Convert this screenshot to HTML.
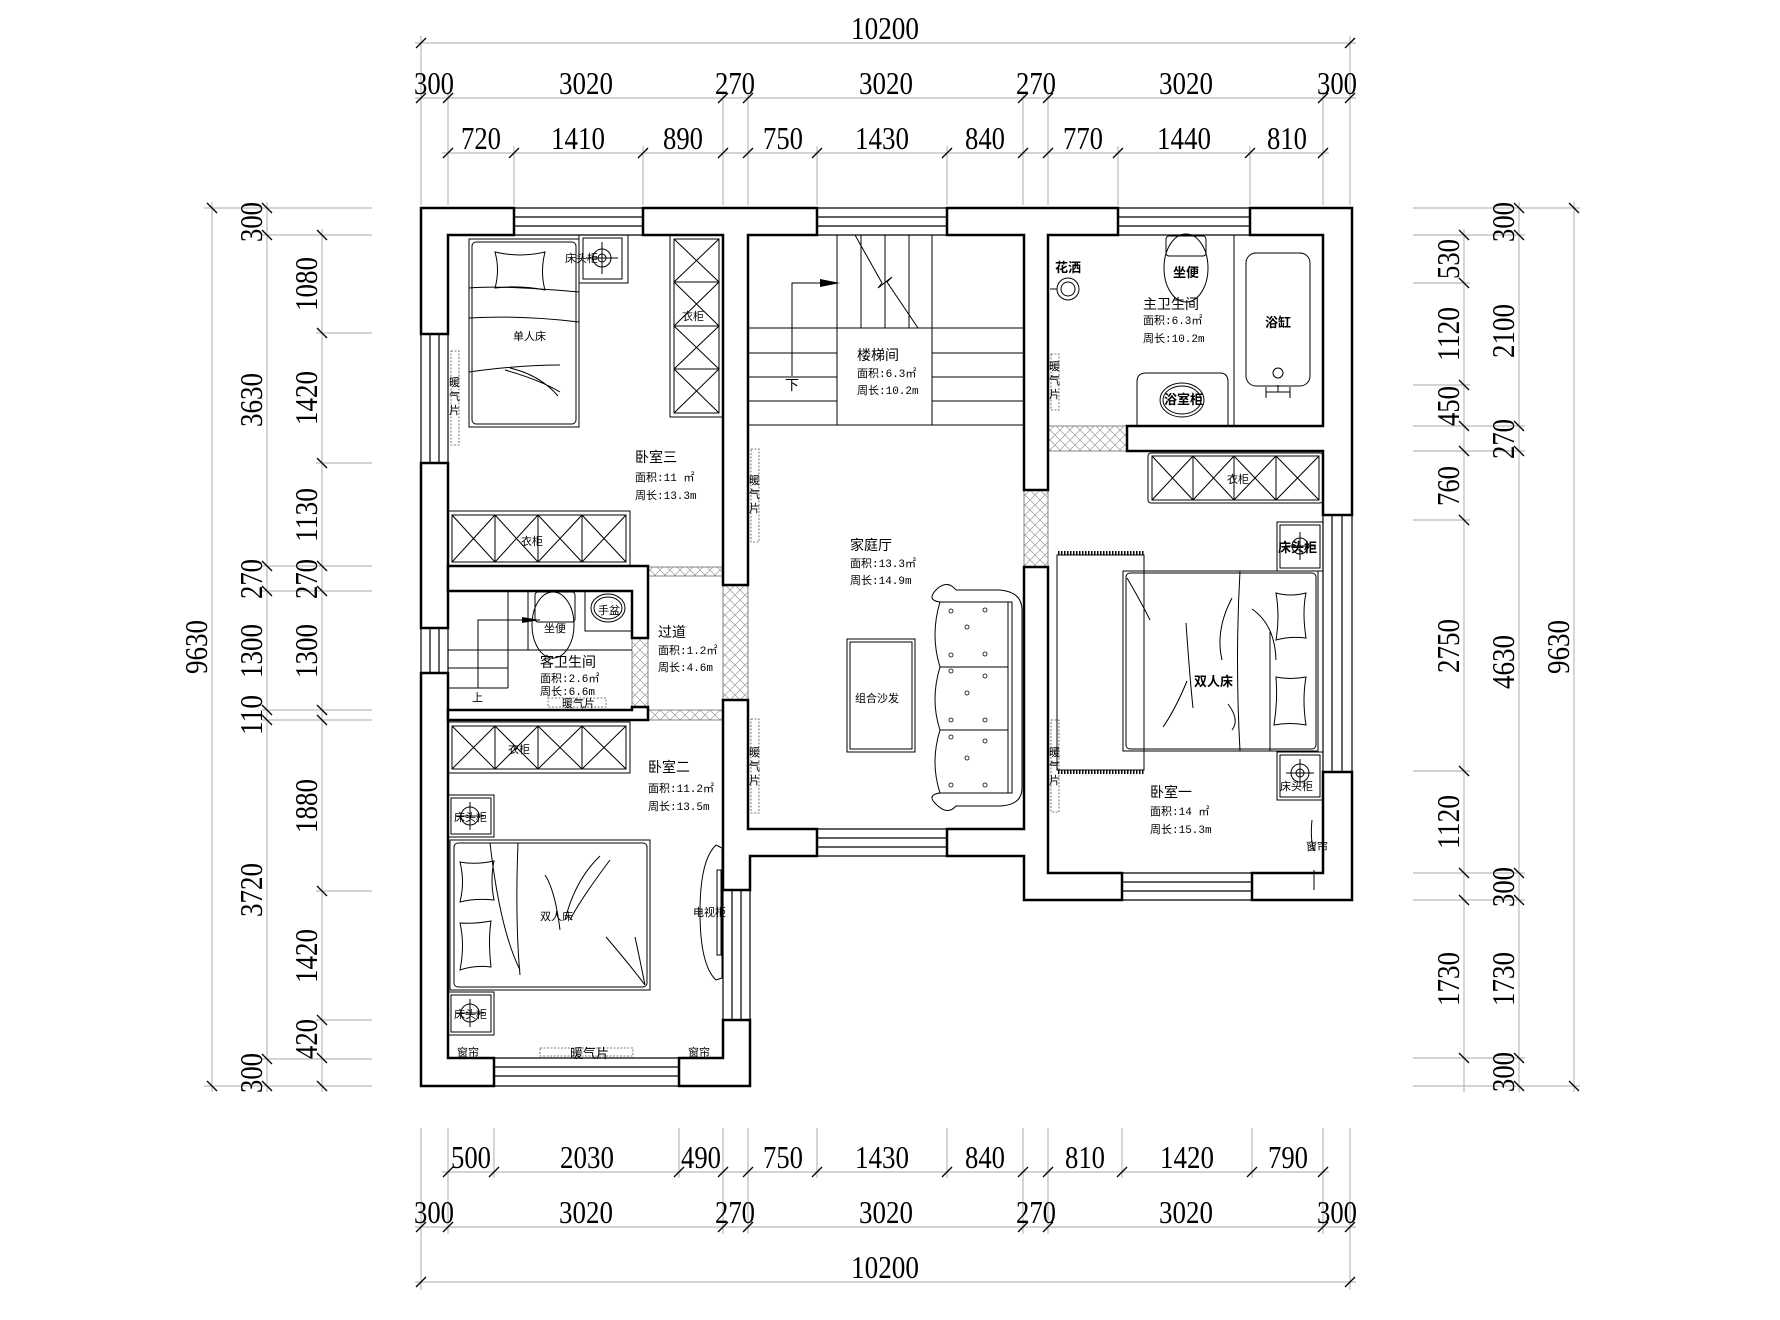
<!DOCTYPE html>
<html><head><meta charset="utf-8"><style>
html,body{margin:0;padding:0;background:#fff;}
svg{display:block;}
.d{font-family:"Liberation Serif","Noto Serif CJK SC",serif;font-size:32px;fill:#000;}
.t{font-family:"Liberation Sans","Noto Sans CJK SC",sans-serif;font-size:14px;fill:#000;}
.s{font-family:"Liberation Mono","Noto Sans CJK SC",monospace;font-size:11px;fill:#000;}
.b{font-family:"Liberation Sans","Noto Sans CJK SC",sans-serif;font-size:13px;font-weight:bold;fill:#000;}
</style></head><body>
<svg width="1780" height="1320" viewBox="0 0 1780 1320" xmlns="http://www.w3.org/2000/svg">
<defs>
<pattern id="h" width="10" height="10" patternUnits="userSpaceOnUse">
<path d="M0 10 L10 0 M0 0 L10 10" stroke="#999" stroke-width="0.7"/>
</pattern>
</defs>
<rect width="1780" height="1320" fill="#fff"/>

<g stroke="#bbb" stroke-width="1.2">
<line x1="421" y1="36" x2="421" y2="205"/><line x1="1350" y1="36" x2="1350" y2="205"/>
<line x1="448" y1="92" x2="448" y2="205"/><line x1="723" y1="92" x2="723" y2="205"/><line x1="748" y1="92" x2="748" y2="205"/><line x1="1023" y1="92" x2="1023" y2="205"/><line x1="1048" y1="92" x2="1048" y2="205"/><line x1="1323" y1="92" x2="1323" y2="205"/>
<line x1="514" y1="146" x2="514" y2="205"/><line x1="643" y1="146" x2="643" y2="205"/><line x1="817" y1="146" x2="817" y2="205"/><line x1="947" y1="146" x2="947" y2="205"/><line x1="1118" y1="146" x2="1118" y2="205"/><line x1="1250" y1="146" x2="1250" y2="205"/>
<line x1="421" y1="1128" x2="421" y2="1290"/><line x1="1350" y1="1128" x2="1350" y2="1290"/>
<line x1="448" y1="1128" x2="448" y2="1234"/><line x1="723" y1="1128" x2="723" y2="1234"/><line x1="748" y1="1128" x2="748" y2="1234"/><line x1="1023" y1="1128" x2="1023" y2="1234"/><line x1="1048" y1="1128" x2="1048" y2="1234"/><line x1="1323" y1="1128" x2="1323" y2="1234"/>
<line x1="494" y1="1128" x2="494" y2="1178"/><line x1="679" y1="1128" x2="679" y2="1178"/><line x1="817" y1="1128" x2="817" y2="1178"/><line x1="947" y1="1128" x2="947" y2="1178"/><line x1="1122" y1="1128" x2="1122" y2="1178"/><line x1="1252" y1="1128" x2="1252" y2="1178"/>
<line x1="415" y1="43" x2="1356" y2="43"/><line x1="415" y1="98" x2="1356" y2="98"/><line x1="442" y1="153" x2="1329" y2="153"/>
<line x1="442" y1="1172" x2="1329" y2="1172"/><line x1="415" y1="1227" x2="1356" y2="1227"/><line x1="415" y1="1282" x2="1356" y2="1282"/>
<line x1="204" y1="208" x2="372" y2="208"/><line x1="204" y1="1086" x2="372" y2="1086"/>
<line x1="262" y1="235" x2="372" y2="235"/><line x1="262" y1="566" x2="372" y2="566"/><line x1="262" y1="591" x2="372" y2="591"/><line x1="262" y1="710" x2="372" y2="710"/><line x1="262" y1="720" x2="372" y2="720"/><line x1="262" y1="1059" x2="372" y2="1059"/>
<line x1="316" y1="333" x2="372" y2="333"/><line x1="316" y1="463" x2="372" y2="463"/><line x1="316" y1="891" x2="372" y2="891"/><line x1="316" y1="1020" x2="372" y2="1020"/>
<line x1="212" y1="202" x2="212" y2="1092"/><line x1="267" y1="202" x2="267" y2="1092"/><line x1="322" y1="229" x2="322" y2="1092"/>
<line x1="1413" y1="208" x2="1580" y2="208"/><line x1="1413" y1="1086" x2="1580" y2="1086"/>
<line x1="1413" y1="235" x2="1525" y2="235"/><line x1="1413" y1="426" x2="1525" y2="426"/><line x1="1413" y1="451" x2="1525" y2="451"/><line x1="1413" y1="873" x2="1525" y2="873"/><line x1="1413" y1="900" x2="1525" y2="900"/><line x1="1413" y1="1058" x2="1525" y2="1058"/>
<line x1="1413" y1="283" x2="1470" y2="283"/><line x1="1413" y1="385" x2="1470" y2="385"/><line x1="1413" y1="520" x2="1470" y2="520"/><line x1="1413" y1="771" x2="1470" y2="771"/>
<line x1="1464" y1="229" x2="1464" y2="1092"/><line x1="1519" y1="202" x2="1519" y2="1092"/><line x1="1574" y1="202" x2="1574" y2="1092"/>
</g>
<g stroke="#000" stroke-width="1.3">
<path d="M416 48l10-10M1345 48l10-10
M416 103l10-10M443 103l10-10M718 103l10-10M743 103l10-10M1018 103l10-10M1043 103l10-10M1318 103l10-10M1345 103l10-10
M443 158l10-10M509 158l10-10M638 158l10-10M718 158l10-10M743 158l10-10M812 158l10-10M942 158l10-10M1018 158l10-10M1043 158l10-10M1113 158l10-10M1245 158l10-10M1318 158l10-10
M443 1177l10-10M489 1177l10-10M674 1177l10-10M718 1177l10-10M743 1177l10-10M812 1177l10-10M942 1177l10-10M1018 1177l10-10M1043 1177l10-10M1117 1177l10-10M1247 1177l10-10M1318 1177l10-10
M416 1232l10-10M443 1232l10-10M718 1232l10-10M743 1232l10-10M1018 1232l10-10M1043 1232l10-10M1318 1232l10-10M1345 1232l10-10
M416 1287l10-10M1345 1287l10-10
M207 203l10 10M207 1081l10 10
M262 203l10 10M262 230l10 10M262 561l10 10M262 586l10 10M262 705l10 10M262 715l10 10M262 1054l10 10M262 1081l10 10
M317 230l10 10M317 328l10 10M317 458l10 10M317 561l10 10M317 586l10 10M317 705l10 10M317 715l10 10M317 886l10 10M317 1015l10 10M317 1053l10 10M317 1081l10 10
M1569 203l10 10M1569 1081l10 10
M1514 203l10 10M1514 230l10 10M1514 421l10 10M1514 446l10 10M1514 868l10 10M1514 895l10 10M1514 1053l10 10M1514 1081l10 10
M1459 230l10 10M1459 278l10 10M1459 380l10 10M1459 421l10 10M1459 446l10 10M1459 515l10 10M1459 766l10 10M1459 868l10 10M1459 895l10 10M1459 1053l10 10"/>
</g>
<g class="d" text-anchor="middle">
<text x="885" y="39" textLength="68" lengthAdjust="spacingAndGlyphs">10200</text>
<text x="434" y="94" textLength="40" lengthAdjust="spacingAndGlyphs">300</text>
<text x="586" y="94" textLength="54" lengthAdjust="spacingAndGlyphs">3020</text>
<text x="735" y="94" textLength="40" lengthAdjust="spacingAndGlyphs">270</text>
<text x="886" y="94" textLength="54" lengthAdjust="spacingAndGlyphs">3020</text>
<text x="1036" y="94" textLength="40" lengthAdjust="spacingAndGlyphs">270</text>
<text x="1186" y="94" textLength="54" lengthAdjust="spacingAndGlyphs">3020</text>
<text x="1337" y="94" textLength="40" lengthAdjust="spacingAndGlyphs">300</text>
<text x="481" y="149" textLength="40" lengthAdjust="spacingAndGlyphs">720</text>
<text x="578" y="149" textLength="54" lengthAdjust="spacingAndGlyphs">1410</text>
<text x="683" y="149" textLength="40" lengthAdjust="spacingAndGlyphs">890</text>
<text x="783" y="149" textLength="40" lengthAdjust="spacingAndGlyphs">750</text>
<text x="882" y="149" textLength="54" lengthAdjust="spacingAndGlyphs">1430</text>
<text x="985" y="149" textLength="40" lengthAdjust="spacingAndGlyphs">840</text>
<text x="1083" y="149" textLength="40" lengthAdjust="spacingAndGlyphs">770</text>
<text x="1184" y="149" textLength="54" lengthAdjust="spacingAndGlyphs">1440</text>
<text x="1287" y="149" textLength="40" lengthAdjust="spacingAndGlyphs">810</text>
<text x="471" y="1168" textLength="40" lengthAdjust="spacingAndGlyphs">500</text>
<text x="587" y="1168" textLength="54" lengthAdjust="spacingAndGlyphs">2030</text>
<text x="701" y="1168" textLength="40" lengthAdjust="spacingAndGlyphs">490</text>
<text x="783" y="1168" textLength="40" lengthAdjust="spacingAndGlyphs">750</text>
<text x="882" y="1168" textLength="54" lengthAdjust="spacingAndGlyphs">1430</text>
<text x="985" y="1168" textLength="40" lengthAdjust="spacingAndGlyphs">840</text>
<text x="1085" y="1168" textLength="40" lengthAdjust="spacingAndGlyphs">810</text>
<text x="1187" y="1168" textLength="54" lengthAdjust="spacingAndGlyphs">1420</text>
<text x="1288" y="1168" textLength="40" lengthAdjust="spacingAndGlyphs">790</text>
<text x="434" y="1223" textLength="40" lengthAdjust="spacingAndGlyphs">300</text>
<text x="586" y="1223" textLength="54" lengthAdjust="spacingAndGlyphs">3020</text>
<text x="735" y="1223" textLength="40" lengthAdjust="spacingAndGlyphs">270</text>
<text x="886" y="1223" textLength="54" lengthAdjust="spacingAndGlyphs">3020</text>
<text x="1036" y="1223" textLength="40" lengthAdjust="spacingAndGlyphs">270</text>
<text x="1186" y="1223" textLength="54" lengthAdjust="spacingAndGlyphs">3020</text>
<text x="1337" y="1223" textLength="40" lengthAdjust="spacingAndGlyphs">300</text>
<text x="885" y="1278" textLength="68" lengthAdjust="spacingAndGlyphs">10200</text>
<text transform="translate(207,647) rotate(-90)" textLength="54" lengthAdjust="spacingAndGlyphs">9630</text>
<text transform="translate(262,222) rotate(-90)" textLength="40" lengthAdjust="spacingAndGlyphs">300</text>
<text transform="translate(262,400) rotate(-90)" textLength="54" lengthAdjust="spacingAndGlyphs">3630</text>
<text transform="translate(262,579) rotate(-90)" textLength="40" lengthAdjust="spacingAndGlyphs">270</text>
<text transform="translate(262,651) rotate(-90)" textLength="54" lengthAdjust="spacingAndGlyphs">1300</text>
<text transform="translate(262,715) rotate(-90)" textLength="40" lengthAdjust="spacingAndGlyphs">110</text>
<text transform="translate(262,890) rotate(-90)" textLength="54" lengthAdjust="spacingAndGlyphs">3720</text>
<text transform="translate(262,1073) rotate(-90)" textLength="40" lengthAdjust="spacingAndGlyphs">300</text>
<text transform="translate(317,284) rotate(-90)" textLength="54" lengthAdjust="spacingAndGlyphs">1080</text>
<text transform="translate(317,398) rotate(-90)" textLength="54" lengthAdjust="spacingAndGlyphs">1420</text>
<text transform="translate(317,515) rotate(-90)" textLength="54" lengthAdjust="spacingAndGlyphs">1130</text>
<text transform="translate(317,579) rotate(-90)" textLength="40" lengthAdjust="spacingAndGlyphs">270</text>
<text transform="translate(317,651) rotate(-90)" textLength="54" lengthAdjust="spacingAndGlyphs">1300</text>
<text transform="translate(317,806) rotate(-90)" textLength="54" lengthAdjust="spacingAndGlyphs">1880</text>
<text transform="translate(317,956) rotate(-90)" textLength="54" lengthAdjust="spacingAndGlyphs">1420</text>
<text transform="translate(317,1039) rotate(-90)" textLength="40" lengthAdjust="spacingAndGlyphs">420</text>
<text transform="translate(1569,647) rotate(-90)" textLength="54" lengthAdjust="spacingAndGlyphs">9630</text>
<text transform="translate(1514,222) rotate(-90)" textLength="40" lengthAdjust="spacingAndGlyphs">300</text>
<text transform="translate(1514,331) rotate(-90)" textLength="54" lengthAdjust="spacingAndGlyphs">2100</text>
<text transform="translate(1514,439) rotate(-90)" textLength="40" lengthAdjust="spacingAndGlyphs">270</text>
<text transform="translate(1514,662) rotate(-90)" textLength="54" lengthAdjust="spacingAndGlyphs">4630</text>
<text transform="translate(1514,887) rotate(-90)" textLength="40" lengthAdjust="spacingAndGlyphs">300</text>
<text transform="translate(1514,979) rotate(-90)" textLength="54" lengthAdjust="spacingAndGlyphs">1730</text>
<text transform="translate(1514,1072) rotate(-90)" textLength="40" lengthAdjust="spacingAndGlyphs">300</text>
<text transform="translate(1459,259) rotate(-90)" textLength="40" lengthAdjust="spacingAndGlyphs">530</text>
<text transform="translate(1459,334) rotate(-90)" textLength="54" lengthAdjust="spacingAndGlyphs">1120</text>
<text transform="translate(1459,406) rotate(-90)" textLength="40" lengthAdjust="spacingAndGlyphs">450</text>
<text transform="translate(1459,486) rotate(-90)" textLength="40" lengthAdjust="spacingAndGlyphs">760</text>
<text transform="translate(1459,646) rotate(-90)" textLength="54" lengthAdjust="spacingAndGlyphs">2750</text>
<text transform="translate(1459,822) rotate(-90)" textLength="54" lengthAdjust="spacingAndGlyphs">1120</text>
<text transform="translate(1459,979) rotate(-90)" textLength="54" lengthAdjust="spacingAndGlyphs">1730</text>
</g>

<g fill="url(#h)" stroke="#666" stroke-width="0.8">
<rect x="648" y="567" width="75" height="9"/>
<rect x="632" y="638" width="16" height="69"/>
<rect x="648" y="710" width="75" height="10"/>
<rect x="723" y="585" width="25" height="115"/>
<rect x="1024" y="490" width="24" height="77"/>
<rect x="1048" y="426" width="79" height="25"/>
</g>

<g fill="#fff" stroke="#000" stroke-width="2.5" stroke-linejoin="miter">
<polygon points="421,208 514,208 514,235 448,235 448,334 421,334"/>
<polygon points="421,463 448,463 448,628 421,628"/>
<polygon points="421,673 448,673 448,1058 494,1058 494,1086 421,1086"/>
<polygon points="679,1058 723,1058 723,1020 750,1020 750,1086 679,1086"/>
<polygon points="723,700 748,700 748,829 817,829 817,856 750,856 750,890 723,890"/>
<polygon points="947,829 1024,829 1024,567 1048,567 1048,873 1122,873 1122,900 1024,900 1024,856 947,856"/>
<polygon points="1252,873 1323,873 1323,772 1352,772 1352,900 1252,900"/>
<polygon points="1250,208 1352,208 1352,515 1323,515 1323,451 1127,451 1127,426 1323,426 1323,235 1250,235"/>
<polygon points="947,208 1118,208 1118,235 1048,235 1048,490 1024,490 1024,235 947,235"/>
<polygon points="643,208 817,208 817,235 748,235 748,585 723,585 723,235 643,235"/>
<polygon points="448,566 648,566 648,638 632,638 632,591 448,591"/>
<polygon points="448,710 632,710 632,707 648,707 648,720 448,720"/>
</g>

<g stroke="#000" stroke-width="1.2" fill="none">
<path d="M514 208H643M514 217H643M514 226H643M514 235H643"/>
<path d="M817 208H947M817 217H947M817 226H947M817 235H947"/>
<path d="M1118 208H1250M1118 217H1250M1118 226H1250M1118 235H1250"/>
<path d="M421 334V463M430 334V463M439 334V463M448 334V463"/>
<path d="M421 628V673M430 628V673M439 628V673M448 628V673"/>
<path d="M494 1058H679M494 1067H679M494 1076H679M494 1086H679"/>
<path d="M723 890V1020M732 890V1020M741 890V1020M750 890V1020"/>
<path d="M817 829H947M817 838H947M817 847H947M817 856H947"/>
<path d="M1122 873H1252M1122 882H1252M1122 891H1252M1122 900H1252"/>
<path d="M1323 515V772M1332 515V772M1342 515V772M1352 515V772"/>
</g>

<g stroke="#000" stroke-width="1" fill="none">
<path d="M748 328H1023M748 425H1023M748 353H837M748 377H837M748 401H837M932 353H1023M932 377H1023M932 401H1023"/>
<path d="M837 235V425M932 235V425M861 235V328M885 235V328M909 235V328"/>
<path d="M855 235L882 283L878 288L892 277L887 282L918 328"/>
<path d="M792 376V283H832"/>
</g>
<polygon points="820,279 840,283 820,287" fill="#000"/>
<text class="t" x="785" y="390">下</text>

<g fill="none" stroke="#555" stroke-width="0.8" stroke-dasharray="2,1.5">
<rect x="451" y="351" width="8" height="94"/>
<rect x="751" y="449" width="8" height="93"/>
<rect x="751" y="719" width="8" height="94"/>
<rect x="1051" y="354" width="8" height="56"/>
<rect x="1051" y="720" width="8" height="92"/>
<rect x="548" y="698" width="58" height="9"/>
<rect x="540" y="1048" width="93" height="8"/>
</g>
<g class="s">
<text x="449" y="386">暖</text><text x="449" y="400">气</text><text x="449" y="414">片</text>
<text x="749" y="484">暖</text><text x="749" y="498">气</text><text x="749" y="512">片</text>
<text x="749" y="756">暖</text><text x="749" y="770">气</text><text x="749" y="784">片</text>
<text x="1049" y="370">暖</text><text x="1049" y="384">气</text><text x="1049" y="398">片</text>
<text x="1049" y="756">暖</text><text x="1049" y="770">气</text><text x="1049" y="784">片</text>
<text x="562" y="707">暖气片</text>
<text x="570" y="1058" font-size="13">暖气片</text>
</g>

<g stroke="#000" stroke-width="1" fill="none">
<rect x="469" y="239" width="110" height="188"/>
<rect x="472" y="242" width="104" height="182" rx="4"/>
<path d="M495 252Q520 258 545 252Q540 272 545 290Q520 285 495 288Q500 270 495 252Z"/>
<path d="M469 288Q500 285 579 292M469 318Q520 315 579 322M469 372Q520 365 560 365M505 370Q540 380 560 392M510 368Q540 375 558 396"/>
<rect x="579" y="235" width="49" height="48"/><rect x="583" y="238" width="39" height="41"/>
<circle cx="602" cy="258" r="9"/><circle cx="602" cy="258" r="4"/><path d="M586 258H618M602 242V274"/>
<rect x="670" y="235" width="53" height="182"/><rect x="674" y="239" width="45" height="174"/>
<path d="M674 239L719 282M719 239L674 282M674 282H719M674 282L719 326M719 282L674 326M674 326H719M674 326L719 369M719 326L674 369M674 369H719M674 369L719 413M719 369L674 413"/>
<rect x="448" y="511" width="182" height="55"/><rect x="452" y="515" width="174" height="47"/>
<path d="M452 515L495 562M495 515L452 562M495 515V562M495 515L538 562M538 515L495 562M538 515V562M538 515L582 562M582 515L538 562M582 515V562M582 515L626 562M626 515L582 562"/>
</g>
<text class="s" x="565" y="262" font-size="13">床头柜</text>
<text class="s" x="682" y="320" font-size="13">衣柜</text>
<text class="s" x="513" y="340" font-size="13">单人床</text>
<text class="s" x="521" y="545" font-size="13">衣柜</text>
<text class="t" x="635" y="462">卧室三</text>
<text class="s" x="635" y="481">面积:11 ㎡</text>
<text class="s" x="635" y="499">周长:13.3m</text>

<g stroke="#000" stroke-width="1" fill="none">
<path d="M448 650H632M448 668H508M448 688H508M508 591V688M528 591V650"/>
<path d="M478 688V620H540"/>
<rect x="535" y="592" width="40" height="30" rx="3"/>
<ellipse cx="553" cy="625" rx="21" ry="33"/>
<rect x="585" y="591" width="47" height="40"/>
<ellipse cx="608" cy="608" rx="17" ry="14"/><ellipse cx="608" cy="608" rx="14" ry="11"/>
</g>
<polygon points="522,617 540,620 522,623" fill="#000"/>
<text class="s" x="544" y="632" font-size="9">坐便</text>
<text class="s" x="598" y="614" font-size="9">手盆</text>
<text class="s" x="472" y="701">上</text>
<text class="t" x="540" y="667">客卫生间</text>
<text class="s" x="540" y="682" font-size="9">面积:2.6㎡</text>
<text class="s" x="540" y="695" font-size="9">周长:6.6m</text>
<text class="t" x="658" y="637">过道</text>
<text class="s" x="658" y="654">面积:1.2㎡</text>
<text class="s" x="658" y="671">周长:4.6m</text>

<g stroke="#000" stroke-width="1" fill="none">
<rect x="448" y="722" width="182" height="51"/><rect x="452" y="726" width="174" height="43"/>
<path d="M452 726L495 769M495 726L452 769M495 726V769M495 726L538 769M538 726L495 769M538 726V769M538 726L582 769M582 726L538 769M582 726V769M582 726L626 769M626 726L582 769"/>
<rect x="448" y="795" width="46" height="42"/><rect x="451" y="798" width="40" height="36"/>
<circle cx="470" cy="816" r="9"/><path d="M456 816H484M470 802V830"/>
<rect x="448" y="992" width="46" height="43"/><rect x="451" y="995" width="40" height="37"/>
<circle cx="470" cy="1013" r="9"/><path d="M456 1013H484M470 999V1027"/>
<rect x="450" y="840" width="200" height="150"/><rect x="454" y="843" width="193" height="144" rx="4"/>
<path d="M460 862Q475 865 494 861Q490 880 494 900Q475 898 460 902Q465 882 460 862Z"/>
<path d="M460 923Q475 924 491 921Q488 940 491 967Q475 965 460 970Q465 945 460 923Z"/>
<path d="M490 843Q500 930 520 970M518 843Q515 920 520 975M545 875Q555 890 560 930M600 856Q575 880 565 920M610 860Q580 900 570 920M606 937Q630 965 645 985M635 937Q640 960 645 985"/>
<path d="M716 845Q700 860 700 912Q700 965 716 980"/>
<path d="M716 845L722 848V978L716 980"/>
<rect x="717" y="870" width="4" height="85"/>
</g>
<text class="s" x="508" y="753" font-size="13">衣柜</text>
<text class="t" x="648" y="772">卧室二</text>
<text class="s" x="648" y="792">面积:11.2㎡</text>
<text class="s" x="648" y="810">周长:13.5m</text>
<text class="s" x="454" y="821" font-size="13">床头柜</text>
<text class="s" x="454" y="1018" font-size="13">床头柜</text>
<text class="s" x="540" y="920" font-size="13">双人床</text>
<text class="s" x="693" y="916" font-size="13">电视柜</text>
<text class="s" x="457" y="1056" font-size="13">窗帘</text>
<text class="s" x="688" y="1056" font-size="13">窗帘</text>

<g stroke="#000" stroke-width="1" fill="none">
<rect x="847" y="639" width="68" height="113"/><rect x="850" y="642" width="62" height="107"/>
<path d="M940 602H1012V793H940M1008 602V793M940 667H1008M940 730H1008"/>
<path d="M940 602Q930 635 940 667Q930 700 940 730Q930 762 940 793"/>
<path d="M940 602Q925 600 938 588Q948 580 956 590H1000Q1022 592 1022 610V788Q1022 805 1000 806H956Q948 815 938 806Q925 795 940 793"/>
</g>
<g fill="none" stroke="#000" stroke-width="0.8">
<circle cx="951" cy="611" r="2"/><circle cx="985" cy="610" r="2"/><circle cx="967" cy="627" r="2"/><circle cx="951" cy="655" r="2"/><circle cx="985" cy="654" r="2"/>
<circle cx="951" cy="671" r="2"/><circle cx="985" cy="676" r="2"/><circle cx="967" cy="693" r="2"/><circle cx="951" cy="720" r="2"/><circle cx="985" cy="720" r="2"/>
<circle cx="951" cy="737" r="2"/><circle cx="985" cy="741" r="2"/><circle cx="967" cy="758" r="2"/><circle cx="951" cy="785" r="2"/><circle cx="985" cy="785" r="2"/>
</g>
<text class="s" x="855" y="702" font-size="13">组合沙发</text>
<text class="t" x="850" y="550">家庭厅</text>
<text class="s" x="850" y="567">面积:13.3㎡</text>
<text class="s" x="850" y="584">周长:14.9m</text>
<text class="t" x="857" y="360">楼梯间</text>
<text class="s" x="857" y="377">面积:6.3㎡</text>
<text class="s" x="857" y="394">周长:10.2m</text>

<g stroke="#000" stroke-width="1" fill="none">
<rect x="1166" y="236" width="40" height="20" rx="3"/>
<ellipse cx="1186" cy="268" rx="22" ry="34"/>
<circle cx="1068" cy="289" r="11"/><circle cx="1068" cy="289" r="7"/><path d="M1050 289H1057"/>
<rect x="1234" y="235" width="89" height="191"/>
<rect x="1246" y="253" width="64" height="133" rx="10"/>
<circle cx="1278" cy="373" r="5"/>
<path d="M1266 387V398M1290 387V398M1266 392H1290M1278 385V392"/>
<path d="M1137 426V382Q1137 373 1146 373H1220Q1228 373 1228 382V426"/>
<ellipse cx="1182" cy="400" rx="22" ry="17"/><ellipse cx="1182" cy="400" rx="19" ry="14"/>
</g>
<text class="b" x="1173" y="277" font-size="11">坐便</text>
<text class="b" x="1055" y="272" font-size="11">花洒</text>
<text class="b" x="1265" y="327" font-size="12">浴缸</text>
<text class="b" x="1164" y="404" font-size="11">浴室柜</text>
<text class="t" x="1143" y="309">主卫生间</text>
<text class="s" x="1143" y="324">面积:6.3㎡</text>
<text class="s" x="1143" y="342">周长:10.2m</text>

<g stroke="#000" stroke-width="1" fill="none">
<rect x="1148" y="453" width="175" height="50" rx="3"/><rect x="1152" y="456" width="167" height="44"/>
<path d="M1152 456L1193 500M1193 456L1152 500M1193 456V500M1193 456L1234 500M1234 456L1193 500M1234 456V500M1234 456L1276 500M1276 456L1234 500M1276 456V500M1276 456L1319 500M1319 456L1276 500"/>
<rect x="1277" y="522" width="46" height="49"/><rect x="1280" y="525" width="40" height="43"/>
<circle cx="1300" cy="546" r="8"/><path d="M1286 546H1314M1300 532V560"/>
<rect x="1277" y="752" width="46" height="48"/><rect x="1280" y="755" width="40" height="42"/>
<circle cx="1300" cy="773" r="9"/><circle cx="1300" cy="773" r="4"/><path d="M1286 773H1314M1300 759V787"/>
<rect x="1057" y="555" width="87" height="215"/>
<rect x="1123" y="571" width="195" height="180"/><rect x="1126" y="573" width="190" height="176" rx="4"/>
<path d="M1276 593Q1290 597 1306 593Q1302 612 1306 638Q1290 636 1276 640Q1280 617 1276 593Z"/>
<path d="M1276 677Q1290 680 1306 677Q1302 700 1306 725Q1290 722 1274 725Q1278 700 1276 677Z"/>
<path d="M1240 571Q1235 660 1240 751M1270 632V751M1252 609Q1275 625 1276 660M1186 623Q1190 680 1193 708M1187 681Q1175 710 1163 727M1232 598Q1215 630 1222 660M1228 704Q1240 720 1232 730M1127 578Q1140 600 1150 620"/>
<path d="M1312 820Q1310 840 1314 850M1314 870V890"/>
</g>
<g stroke="#000" stroke-width="0.8">
<path d="M1058 553h86M1058 772h86" stroke-dasharray="1.5,1.5" stroke-width="4"/>
</g>
<text class="b" x="1278" y="552" font-size="12">床头柜</text>
<text class="s" x="1280" y="790" font-size="12">床头柜</text>
<text class="s" x="1227" y="483" font-size="12">衣柜</text>
<text class="b" x="1194" y="686" font-size="13">双人床</text>
<text class="t" x="1150" y="797">卧室一</text>
<text class="s" x="1150" y="815">面积:14 ㎡</text>
<text class="s" x="1150" y="833">周长:15.3m</text>
<text class="s" x="1306" y="850" font-size="12">窗帘</text>
</svg>
</body></html>
